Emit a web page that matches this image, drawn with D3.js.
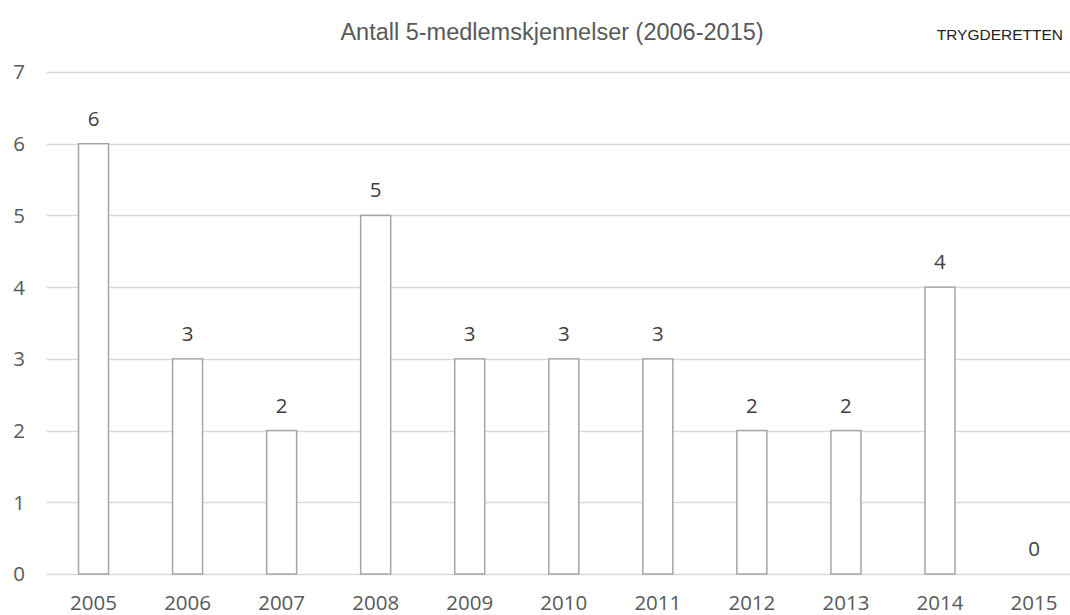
<!DOCTYPE html>
<html>
<head>
<meta charset="utf-8">
<script src="https://cdn.jsdelivr.net/npm/d3@7"></script>
<style>
  body { margin: 0; background: #fff; }
  svg { display: block; }
</style>
</head>
<body>
<svg id="chart"></svg>
<script>
const years = ['2005', '2006', '2007', '2008', '2009', '2010', '2011', '2012', '2013', '2014', '2015'];
const counts = [6, 3, 2, 5, 3, 3, 3, 2, 2, 4, 0];
const yTicks = [0, 1, 2, 3, 4, 5, 6, 7];

const w = 1070;
const h = 615;

const svg = d3.select('#chart')
  .attr('width', w)
  .attr('height', h);

// plot area runs a little past the right edge, like the original
const x = d3.scaleBand()
  .domain(years)
  .range([46.5, 46.5 + 11 * 94.05])
  .padding(0);

const y = d3.scaleLinear()
  .domain([0, 7])
  .range([574, 72]);

const barW = 30;
const numFont = '"Open Sans", sans-serif';
const numSize = 20.5;

// gridlines
svg.append('g')
  .selectAll('line')
  .data(yTicks)
  .enter()
  .append('line')
  .attr('x1', 46.5)
  .attr('x2', w)
  .attr('y1', (d) => Math.round(y(d)) + 0.5)
  .attr('y2', (d) => Math.round(y(d)) + 0.5)
  .attr('stroke', '#d9d9d9')
  .attr('stroke-width', 1.5);

// y labels
svg.append('g')
  .selectAll('text')
  .data(yTicks)
  .enter()
  .append('text')
  .attr('x', 25)
  .attr('y', (d) => y(d))
  .attr('dy', '0.36em')
  .attr('text-anchor', 'end')
  .attr('font-family', numFont)
  .attr('font-size', numSize)
  .attr('fill', '#595959')
  .text((d) => d);

// bars (the zero bar draws nothing)
svg.append('g')
  .selectAll('rect')
  .data(counts.map((c, i) => ({ year: years[i], count: c })).filter((d) => d.count > 0))
  .enter()
  .append('rect')
  .attr('x', (d) => x(d.year) + x.bandwidth() / 2 - barW / 2)
  .attr('y', (d) => y(d.count))
  .attr('width', barW)
  .attr('height', (d) => y(0) - y(d.count))
  .attr('fill', '#fff')
  .attr('stroke', '#a5a5a5')
  .attr('stroke-width', 1.5);

// value labels
svg.append('g')
  .selectAll('text')
  .data(counts)
  .enter()
  .append('text')
  .attr('x', (d, i) => x(years[i]) + x.bandwidth() / 2)
  .attr('y', (d) => y(d) - 18)
  .attr('text-anchor', 'middle')
  .attr('font-family', numFont)
  .attr('font-size', numSize)
  .attr('fill', '#404040')
  .text((d) => d);

// x labels
svg.append('g')
  .selectAll('text')
  .data(years)
  .enter()
  .append('text')
  .attr('x', (d) => x(d) + x.bandwidth() / 2)
  .attr('y', 610)
  .attr('text-anchor', 'middle')
  .attr('font-family', numFont)
  .attr('font-size', numSize)
  .attr('fill', '#595959')
  .text((d) => d);

// title
svg.append('text')
  .attr('x', 552)
  .attr('y', 40)
  .attr('text-anchor', 'middle')
  .attr('font-family', '"Liberation Sans", Arial, sans-serif')
  .attr('font-size', 23.5)
  .attr('fill', '#595959')
  .text('Antall 5-medlemskjennelser (2006-2015)');

svg.append('text')
  .attr('x', 1063)
  .attr('y', 40)
  .attr('text-anchor', 'end')
  .attr('font-family', '"Liberation Sans", Arial, sans-serif')
  .attr('font-size', 15.5)
  .attr('fill', '#222')
  .text('TRYGDERETTEN');
</script>
</body>
</html>
